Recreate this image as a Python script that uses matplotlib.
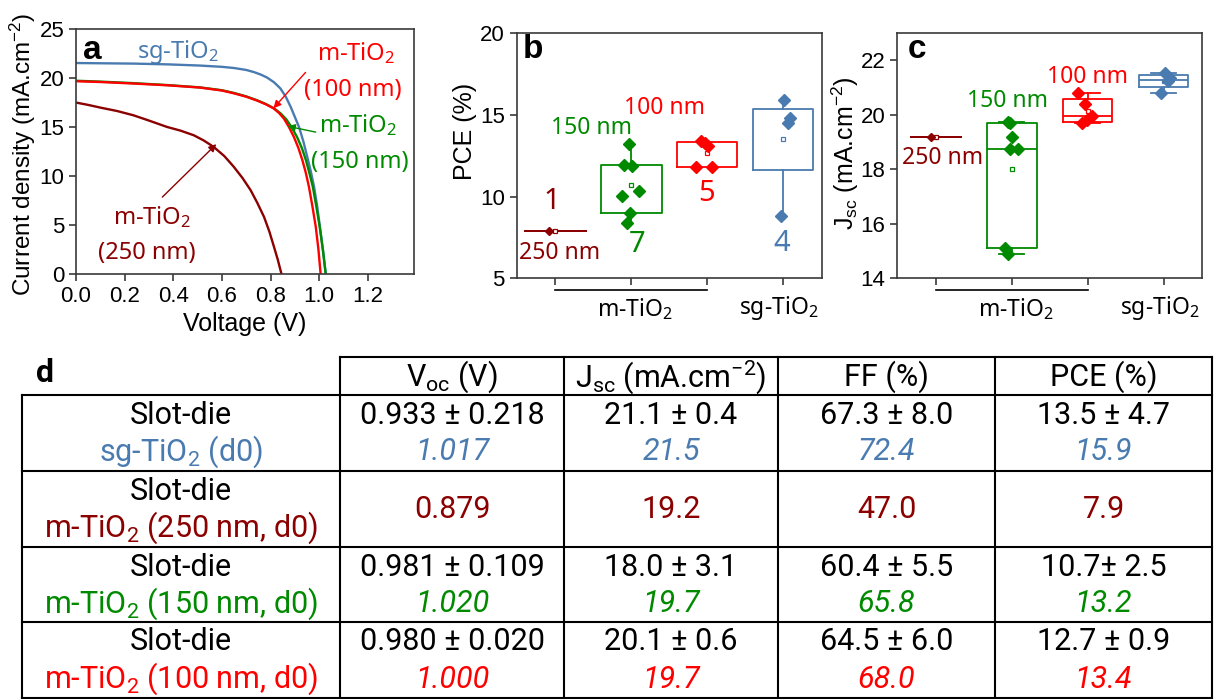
import numpy as np
import matplotlib.pyplot as plt

plt.rcParams['mathtext.default'] = 'regular'
plt.rcParams['font.family'] = ['Liberation Sans', 'DejaVu Sans']

BLUE = '#4a7bb0'
RED = '#ff0000'
GREEN = '#008a00'
DRED = '#8b0000'
FRAME = '#3a3a3a'
ANN = ['Noto Sans', 'DejaVu Sans']
TAB = ['Roboto', 'DejaVu Sans']

# (a) J-V curves
v_sg = [0.0, 0.12, 0.24, 0.38, 0.51, 0.60, 0.65, 0.70, 0.731, 0.76, 0.786, 0.815, 0.841, 0.863,
        0.883, 0.90, 0.917, 0.935, 0.951, 0.966, 0.979, 0.992, 1.003, 1.016, 1.027]
j_sg = [21.56, 21.53, 21.50, 21.42, 21.30, 21.17, 21.05, 20.85, 20.64, 20.38, 20.07, 19.58, 18.95, 18.10,
        17.07, 16.05, 15.03, 13.55, 11.97, 10.45, 8.91, 6.90, 4.83, 2.40, 0.0]
v_150 = [0.0, 0.10, 0.24, 0.38, 0.51, 0.60, 0.65, 0.70, 0.745, 0.78, 0.815, 0.842, 0.865, 0.888,
         0.91, 0.93, 0.946, 0.96, 0.974, 0.988, 1.002, 1.015, 1.027]
j_150 = [19.75, 19.66, 19.50, 19.30, 19.07, 18.78, 18.50, 18.15, 17.75, 17.38, 16.92, 16.40, 15.80, 14.95,
         13.95, 12.80, 11.60, 10.30, 8.90, 6.95, 4.85, 2.50, 0.0]
v_100 = [0.0, 0.10, 0.24, 0.38, 0.51, 0.60, 0.65, 0.70, 0.745, 0.78, 0.812, 0.835, 0.855, 0.875,
         0.896, 0.915, 0.931, 0.945, 0.958, 0.972, 0.986, 0.997, 1.006]
j_100 = [19.70, 19.62, 19.46, 19.28, 19.05, 18.75, 18.46, 18.12, 17.72, 17.35, 16.94, 16.45, 15.88, 15.05,
         14.01, 12.85, 11.63, 10.35, 8.91, 6.95, 4.83, 2.50, 0.0]
v_250 = [0.0, 0.05, 0.099, 0.17, 0.236, 0.30, 0.374, 0.43, 0.484, 0.525, 0.566, 0.61, 0.649, 0.685,
         0.718, 0.745, 0.773, 0.795, 0.814, 0.83, 0.845]
j_250 = [17.52, 17.28, 17.01, 16.65, 16.22, 15.68, 15.03, 14.65, 14.18, 13.65, 12.99, 12.05, 10.95, 9.80,
         8.57, 7.30, 5.85, 4.35, 2.79, 1.45, 0.0]

# (b) PCE per device, (c) Jsc per device; x = jittered category position
pce_250, pce_250_x = [7.9], [0.91]
pce_150 = [13.22, 11.94, 11.90, 10.04, 10.37, 9.02, 8.37]
pce_150_x = [1.97, 1.90, 2.005, 1.873, 2.097, 1.98, 1.94]
pce_100 = [13.4, 13.3, 13.1, 11.8, 11.8]
pce_100_x = [2.914, 2.967, 3.015, 2.857, 3.06]
pce_sg = [15.9, 14.8, 14.5, 8.8]
pce_sg_x = [4.02, 4.096, 4.065, 3.97]

jsc_250, jsc_250_x = [19.2], [0.94]
jsc_150 = [19.75, 19.7, 19.2, 18.75, 18.75, 15.1, 14.9]
jsc_150_x = [1.943, 1.974, 2.0, 1.974, 2.083, 1.908, 1.951]
jsc_100 = [20.8, 20.4, 19.95, 19.8, 19.7]
jsc_100_x = [2.876, 2.964, 3.05, 2.987, 2.92]
jsc_sg = [21.55, 21.35, 21.25, 20.8]
jsc_sg_x = [4.02, 4.08, 4.06, 3.97]

group_colors = [DRED, GREEN, RED, BLUE]
group_counts = ['1', '7', '5', '4']

# (d) table
headers = ['V$_{oc}$ (V)', 'J$_{sc}$ (mA.cm$^{-2}$)', 'FF (%)', 'PCE (%)']
sample_names = ['sg-TiO$_2$ (d0)', 'm-TiO$_2$ (250 nm, d0)', 'm-TiO$_2$ (150 nm, d0)', 'm-TiO$_2$ (100 nm, d0)']
sample_colors = [BLUE, DRED, GREEN, RED]
avg_rows = [['0.933 ± 0.218', '21.1 ± 0.4', '67.3 ± 8.0', '13.5 ± 4.7'],
            None,
            ['0.981 ± 0.109', '18.0 ± 3.1', '60.4 ± 5.5', '10.7± 2.5'],
            ['0.980 ± 0.020', '20.1 ± 0.6', '64.5 ± 6.0', '12.7 ± 0.9']]
best_rows = [['1.017', '21.5', '72.4', '15.9'],
             ['0.879', '19.2', '47.0', '7.9'],
             ['1.020', '19.7', '65.8', '13.2'],
             ['1.000', '19.7', '68.0', '13.4']]


def box_stats(vals):
    s = sorted(vals)
    n = len(s)
    h = n // 2
    if n == 1:
        q1 = q3 = s[0]
    else:
        q1 = np.median(s[:h])
        q3 = np.median(s[n - h:])
    return dict(med=np.median(s), q1=q1, q3=q3, whislo=s[0], whishi=s[-1],
                mean=np.mean(s), fliers=[])


def style_axes(ax):
    for sp in ax.spines.values():
        sp.set_color(FRAME)
        sp.set_linewidth(1.2)
    ax.tick_params(direction='out', length=5, width=1.2, color=FRAME, labelsize=16)


def draw_boxes(ax, groups, xs, width, capw, show_med, ms):
    stats = [box_stats(g) for g in groups]
    out = ax.bxp(stats, positions=[1, 2, 3, 4], widths=width, capwidths=capw,
                 showmeans=True, showfliers=False, manage_ticks=False)
    for i, c in enumerate(group_colors):
        out['boxes'][i].set(color=c, lw=1.3)
        for w in out['whiskers'][2 * i:2 * i + 2]:
            w.set(color=c, lw=1.3)
        for cp in out['caps'][2 * i:2 * i + 2]:
            cp.set(color=c, lw=1.3)
        out['medians'][i].set(color=c, lw=1.3 if show_med else 0)
        out['means'][i].set(marker='s', mfc='white', mec=c, ms=3.5, mew=0.9)
    for i, (g, x) in enumerate(zip(groups, xs)):
        size = ms * 0.7 if i == 0 else ms
        ax.plot(x, g, 'D', color=group_colors[i], ms=size, ls='none', zorder=3)
    ax.set_xlim(0.49, 4.51)
    ax.set_xticks([1, 2, 3, 4])
    ax.set_xticklabels([])
    ax.plot([1, 3], [-0.047, -0.047], transform=ax.get_xaxis_transform(), clip_on=False,
            color='k', lw=1.2)
    ax.text(2.05, -0.125, 'm-TiO$_2$', transform=ax.get_xaxis_transform(), ha='center',
            va='center', fontsize=16.5, family=ANN)
    ax.text(3.95, -0.12, 'sg-TiO$_2$', transform=ax.get_xaxis_transform(), ha='center',
            va='center', fontsize=16.5, family=ANN)


fig = plt.figure(figsize=(12.18, 6.99), dpi=100)

# ---------- table (d) ----------
axt = fig.add_axes([0, 0, 1, 1])
axt.set_xlim(0, 1218)
axt.set_ylim(699, 0)
axt.axis('off')
col_edges = [22, 340, 564, 778, 995, 1212]
row_edges = [357, 395, 471, 547, 622, 698]
axt.plot([col_edges[1], col_edges[-1]], [row_edges[0]] * 2, color='k', lw=1.5)
for y in row_edges[1:]:
    axt.plot([col_edges[0], col_edges[-1]], [y, y], color='k', lw=1.5)
axt.plot([col_edges[0]] * 2, [row_edges[1], row_edges[-1]], color='k', lw=1.5)
for x in col_edges[1:]:
    axt.plot([x, x], [row_edges[0], row_edges[-1]], color='k', lw=1.5)
col_mid = [(a + b) / 2 for a, b in zip(col_edges[:-1], col_edges[1:])]
FS = 22
axt.text(45, 373, 'd', fontsize=23, fontweight='bold', family=TAB, ha='center', va='center')
for j, h in enumerate(headers):
    axt.text(col_mid[j + 1], 377, h, fontsize=FS, family=TAB, ha='center', va='center')
for i in range(4):
    top, bot = row_edges[i + 1], row_edges[i + 2]
    y1, y2 = top + 20, top + 57
    axt.text(col_mid[0], y1, 'Slot-die', fontsize=FS, family=TAB, ha='center', va='center')
    axt.text(col_mid[0], y2, sample_names[i], fontsize=FS, family=TAB, ha='center', va='center',
             color=sample_colors[i])
    for j in range(4):
        if avg_rows[i] is None:
            axt.text(col_mid[j + 1], (top + bot) / 2, best_rows[i][j], fontsize=FS, family=TAB,
                     ha='center', va='center', color=sample_colors[i])
        else:
            axt.text(col_mid[j + 1], y1, avg_rows[i][j], fontsize=FS, family=TAB,
                     ha='center', va='center')
            axt.text(col_mid[j + 1], y2, best_rows[i][j], fontsize=FS, family=TAB, style='italic',
                     ha='center', va='center', color=sample_colors[i])

# ---------- (a) J-V ----------
axa = fig.add_axes([0.0624, 0.608, 0.2775, 0.350])
axa.plot(v_sg, j_sg, color=BLUE, lw=1.7)
axa.plot(v_150, j_150, color=GREEN, lw=1.7)
axa.plot(v_100, j_100, color=RED, lw=1.7)
axa.plot(v_250, j_250, color=DRED, lw=1.7)
axa.set_xlim(0, 1.39)
axa.set_ylim(0, 25)
axa.set_xticks(np.arange(0, 1.3, 0.2))
axa.set_xticklabels(['0.0', '0.2', '0.4', '0.6', '0.8', '1.0', '1.2'])
axa.set_yticks(np.arange(0, 26, 5))
style_axes(axa)
axa.set_xlabel('Voltage (V)', fontsize=18)
axa.set_ylabel('Current density (mA.cm$^{-2}$)', fontsize=17.5)
axa.xaxis.set_label_coords(0.5, -0.155)
axa.yaxis.set_label_coords(-0.113, 0.49)
axa.text(0.049, 0.915, 'a', transform=axa.transAxes, fontsize=24, fontweight='bold',
         ha='center', va='center')
axa.text(0.42, 22.65, 'sg-TiO$_2$', color=BLUE, fontsize=17, family=ANN, ha='center', va='center')
axa.text(1.15, 22.55, 'm-TiO$_2$', color=RED, fontsize=17, family=ANN, ha='center', va='center')
axa.text(1.14, 18.8, '(100 nm)', color=RED, fontsize=17, family=ANN, ha='center', va='center')
axa.text(1.159, 15.2, 'm-TiO$_2$', color=GREEN, fontsize=17, family=ANN, ha='center', va='center')
axa.text(1.167, 11.43, '(150 nm)', color=GREEN, fontsize=17, family=ANN, ha='center', va='center')
axa.text(0.313, 5.8, 'm-TiO$_2$', color=DRED, fontsize=17, family=ANN, ha='center', va='center')
axa.text(0.293, 2.14, '(250 nm)', color=DRED, fontsize=17, family=ANN, ha='center', va='center')
arrow = dict(arrowstyle='-|>', lw=1.0, mutation_scale=11, shrinkA=0, shrinkB=0)
axa.annotate('', xy=(0.812, 16.94), xytext=(0.944, 20.6), arrowprops=dict(arrow, color=RED))
axa.annotate('', xy=(0.87, 15.1), xytext=(0.986, 14.5), arrowprops=dict(arrow, color=GREEN))
axa.annotate('', xy=(0.577, 13.27), xytext=(0.355, 7.86), arrowprops=dict(arrow, color=DRED))

# ---------- (b) PCE ----------
axb = fig.add_axes([0.4242, 0.6019, 0.2504, 0.3505])
draw_boxes(axb, [pce_250, pce_150, pce_100, pce_sg],
           [pce_250_x, pce_150_x, pce_100_x, pce_sg_x], 0.8, 0.0, False, 6.5)
axb.set_ylim(5, 20)
axb.set_yticks([5, 10, 15, 20])
style_axes(axb)
axb.set_ylabel('PCE (%)', fontsize=18)
axb.yaxis.set_label_coords(-0.13, 0.6)
axb.text(0.053, 0.932, 'b', transform=axb.transAxes, fontsize=24, fontweight='bold',
         ha='center', va='center')
count_pos = [(0.95, 9.67), (2.08, 7.04), (2.99, 10.16), (3.98, 7.1)]
for (x, y), t, c in zip(count_pos, group_counts, group_colors):
    axb.text(x, y, t, color=c, fontsize=21, family=ANN, ha='center', va='center')
axb.text(1.06, 6.55, '250 nm', color=DRED, fontsize=16.5, family=ANN, ha='center', va='center')
axb.text(1.47, 14.2, '150 nm', color=GREEN, fontsize=16.5, family=ANN, ha='center', va='center')
axb.text(2.44, 15.43, '100 nm', color=RED, fontsize=16.5, family=ANN, ha='center', va='center')

# ---------- (c) Jsc ----------
axc = fig.add_axes([0.7367, 0.6019, 0.2504, 0.3505])
draw_boxes(axc, [jsc_250, jsc_150, jsc_100, jsc_sg],
           [jsc_250_x, jsc_150_x, jsc_100_x, jsc_sg_x], 0.65, 0.33, True, 6.5)
axc.set_ylim(14, 23)
axc.set_yticks([14, 16, 18, 20, 22])
style_axes(axc)
axc.set_ylabel('J$_{sc}$ (mA.cm$^{-2}$)', fontsize=18)
axc.yaxis.set_label_coords(-0.118, 0.51)
axc.text(0.065, 0.932, 'c', transform=axc.transAxes, fontsize=24, fontweight='bold',
         ha='center', va='center')
axc.text(1.09, 18.41, '250 nm', color=DRED, fontsize=16.5, family=ANN, ha='center', va='center')
axc.text(1.94, 20.52, '150 nm', color=GREEN, fontsize=16.5, family=ANN, ha='center', va='center')
axc.text(3.0, 21.41, '100 nm', color=RED, fontsize=16.5, family=ANN, ha='center', va='center')

fig.savefig('out.png', dpi=100)
